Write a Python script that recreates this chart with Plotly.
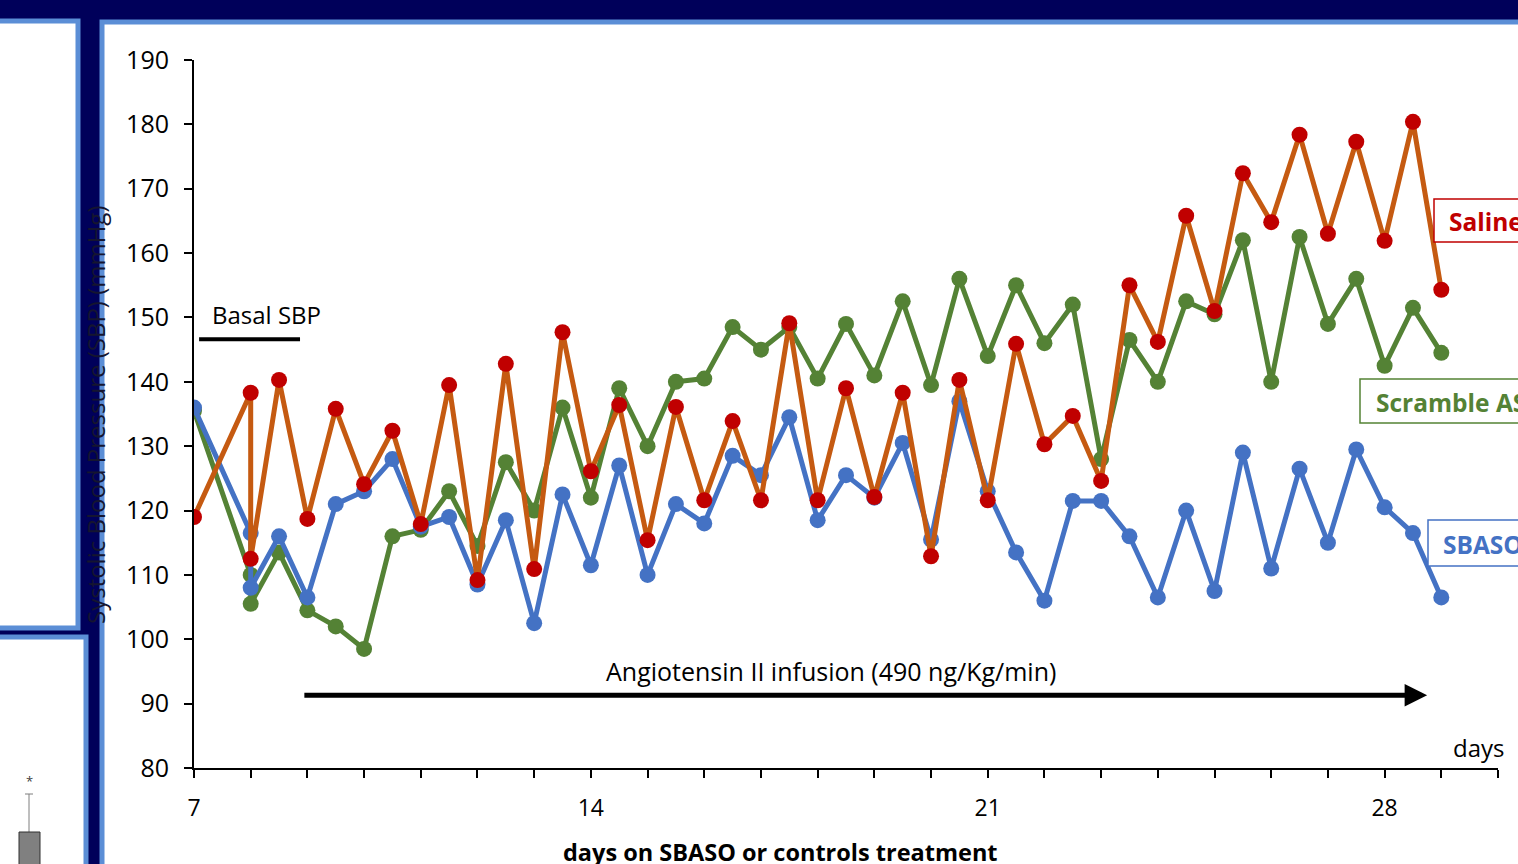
import plotly.graph_objects as go

# ---------------- data ----------------
days = [7, 8, 8, 8.5, 9, 9.5, 10, 10.5, 11, 11.5, 12, 12.5, 13, 13.5, 14, 14.5, 15, 15.5,
        16, 16.5, 17, 17.5, 18, 18.5, 19, 19.5, 20, 20.5, 21, 21.5, 22, 22.5, 23, 23.5,
        24, 24.5, 25, 25.5, 26, 26.5, 27, 27.5, 28, 28.5, 29]

saline = [119, 138.3, 112.5, 140.3, 118.7, 135.8, 124.1, 132.4, 117.9, 139.5, 109.2, 142.8,
          110.9, 147.7, 126.1, 136.4, 115.4, 136.1, 121.6, 133.9, 121.6, 149.1, 121.6, 139.0,
          122.1, 138.3, 112.9, 140.3, 121.6, 145.9, 130.3, 134.7, 124.6, 155.0, 146.2, 165.8,
          151.0, 172.4, 164.8, 178.4, 163.0, 177.3, 161.9, 180.4, 154.3]

sbaso = [136.0, 116.5, 108, 116, 106.5, 121, 123, 128, 117.5, 119, 108.5, 118.5, 102.5,
         122.5, 111.5, 127, 110, 121, 118, 128.5, 125.5, 134.5, 118.5, 125.5, 122, 130.5,
         115.5, 137, 123, 113.5, 106, 121.5, 121.5, 116, 106.5, 120, 107.5, 129, 111, 126.5,
         115, 129.5, 120.5, 116.5, 106.5]

scramble = [135.5, 110, 105.5, 113.5, 104.5, 102, 98.5, 116, 117, 123, 114.5, 127.5, 120,
            136, 122, 139, 130, 140, 140.5, 148.5, 145, 148.5, 140.5, 149, 141, 152.5, 139.5,
            156, 144, 155, 146, 152, 128, 146.5, 140, 152.5, 150.5, 162, 140, 162.5, 149, 156,
            142.5, 151.5, 144.5]

x_tick_vals = list(range(7, 31))
x_tick_labels = ["7", "14", "21", "28"]
y_tick_vals = [80, 90, 100, 110, 120, 130, 140, 150, 160, 170, 180, 190]

# ---------------- layout helpers (pixel -> paper) ----------------
W, H = 1518, 864
L, R, T, B = 194, 20, 60, 96
PW, PH = W - L - R, H - T - B


def px(x):
    return (x - L) / PW


def py(y):
    return (H - B - y) / PH


BLUE = "#4472C4"
GREEN = "#548235"
ORANGE = "#C55A11"
RED = "#C00000"
NAVY = "#00005A"
LIGHT = "#5B8ED6"
FONT = "Open Sans"

fig = go.Figure()

fig.add_trace(go.Scatter(x=days, y=scramble, mode="lines+markers", name="Scramble ASO",
                         line=dict(color=GREEN, width=5),
                         marker=dict(color=GREEN, size=16), showlegend=False))
fig.add_trace(go.Scatter(x=days, y=sbaso, mode="lines+markers", name="SBASO",
                         line=dict(color=BLUE, width=5),
                         marker=dict(color=BLUE, size=16), showlegend=False))
fig.add_trace(go.Scatter(x=days, y=saline, mode="lines+markers", name="Saline",
                         line=dict(color=ORANGE, width=5),
                         marker=dict(color=RED, size=16), showlegend=False))

shapes = []
# slide frame panels
shapes.append(dict(type="rect", xref="paper", yref="paper", layer="below",
                   x0=px(102), x1=px(1540), y0=py(22), y1=py(890),
                   fillcolor="white", line=dict(color=LIGHT, width=5)))
shapes.append(dict(type="rect", xref="paper", yref="paper", layer="below",
                   x0=px(-20), x1=px(78), y0=py(21), y1=py(628),
                   fillcolor="white", line=dict(color=LIGHT, width=5)))
shapes.append(dict(type="rect", xref="paper", yref="paper", layer="below",
                   x0=px(-20), x1=px(86), y0=py(637), y1=py(890),
                   fillcolor="white", line=dict(color=LIGHT, width=5)))
# fragment of neighbouring bar chart
shapes.append(dict(type="line", xref="paper", yref="paper",
                   x0=px(29), x1=px(29), y0=py(794), y1=py(832),
                   line=dict(color="#7F7F7F", width=1)))
shapes.append(dict(type="line", xref="paper", yref="paper",
                   x0=px(25), x1=px(33), y0=py(794), y1=py(794),
                   line=dict(color="#7F7F7F", width=1)))
shapes.append(dict(type="rect", xref="paper", yref="paper",
                   x0=px(19), x1=px(40), y0=py(832), y1=py(880),
                   fillcolor="#808080", line=dict(color="#303030", width=1)))
# Basal SBP bar
shapes.append(dict(type="line", xref="x", yref="y", x0=7.09, x1=8.87, y0=146.6, y1=146.6,
                   line=dict(color="black", width=4)))
# series label boxes
for (x0, y0, y1, col) in [(1434, 199, 242, RED), (1360, 379, 423, GREEN),
                          (1428, 520, 566, BLUE)]:
    shapes.append(dict(type="rect", xref="paper", yref="paper",
                       x0=px(x0), x1=px(1560), y0=py(y0), y1=py(y1),
                       fillcolor="white", line=dict(color=col, width=1.5)))


def note(xp, yp, text, size, color="black", **kw):
    d = dict(xref="paper", yref="paper", x=px(xp), y=py(yp), text=text, showarrow=False,
             xanchor="center", yanchor="middle",
             font=dict(family=FONT, size=size, color=color))
    d.update(kw)
    return d


annotations = []
annotations.append(note(29, 781, "*", 13, "#404040"))
# Angiotensin arrow
annotations.append(dict(xref="x", yref="y", axref="x", ayref="y",
                        x=28.75, y=91.3, ax=8.92, ay=91.3, text="",
                        showarrow=True, arrowhead=2, arrowsize=0.9, arrowwidth=5,
                        arrowcolor="black", standoff=0))
annotations.append(note(831, 671, "Angiotensin II infusion (490 ng/Kg/min)", 25))
annotations.append(note(266, 314, "Basal SBP", 24))
annotations.append(note(1478, 747, "days", 24))
annotations.append(note(780, 852, "<b>days on SBASO or controls treatment</b>", 23.5))
annotations.append(note(95, 415, "Systolic Blood Pressure (SBP) (mmHg)", 24, "#151530",
                        textangle=-90))
# series labels
annotations.append(note(1447, 222, "<b>Saline</b>", 24.5, RED, xanchor="left"))
annotations.append(note(1374, 402, "<b>Scramble ASO</b>", 24.5, GREEN, xanchor="left"))
annotations.append(note(1441, 544, "<b>SBASO</b>", 24.5, BLUE, xanchor="left"))

fig.update_layout(
    width=W, height=H,
    margin=dict(l=L, r=R, t=T, b=B, pad=0),
    paper_bgcolor=NAVY, plot_bgcolor="rgba(0,0,0,0)",
    shapes=shapes, annotations=annotations,
    font=dict(family=FONT, color="black"),
)
fig.update_xaxes(range=[7, 30], tickmode="array", tickvals=x_tick_vals,
                 ticktext=[str(v) if str(v) in x_tick_labels else "" for v in x_tick_vals],
                 ticks="outside", ticklen=8, tickwidth=1.5, tickcolor="black",
                 showline=True, linecolor="black", linewidth=2, showgrid=False,
                 zeroline=False, ticklabelstandoff=10,
                 tickfont=dict(family=FONT, size=23, color="black"))
fig.update_yaxes(range=[80, 190], tickmode="array", tickvals=y_tick_vals,
                 ticks="outside", ticklen=8, tickwidth=1.5, tickcolor="black",
                 showline=True, linecolor="black", linewidth=2, showgrid=False,
                 zeroline=False, ticklabelstandoff=10,
                 tickfont=dict(family=FONT, size=25, color="black"))

fig.write_html("out.html", config={"displayModeBar": False},
               post_script="document.body.style.margin='0';")
